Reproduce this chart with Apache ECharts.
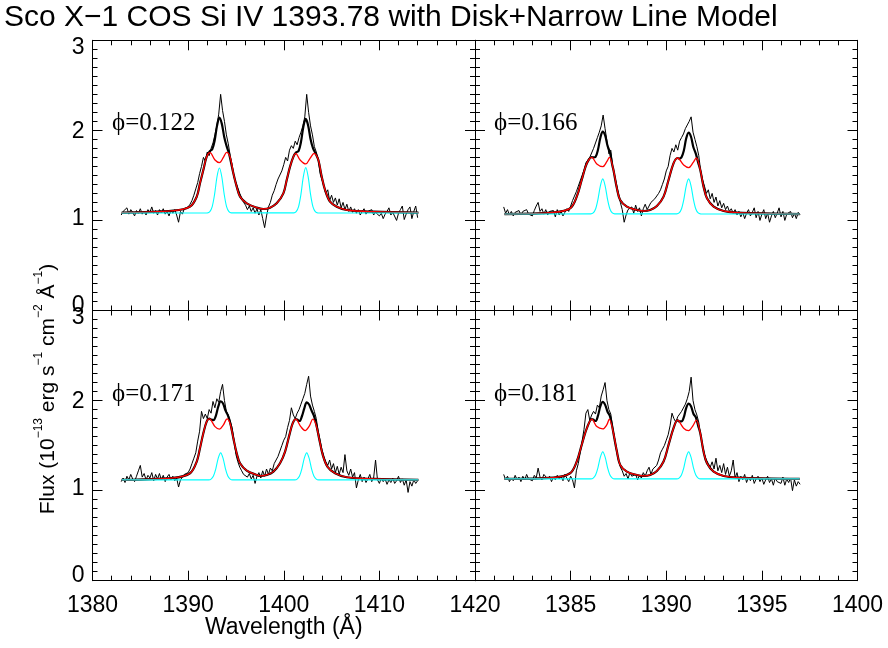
<!DOCTYPE html>
<html><head><meta charset="utf-8">
<script src="https://cdn.jsdelivr.net/npm/echarts@6/dist/echarts.min.js"></script>
<style>html,body{margin:0;padding:0;background:#fff}#c{width:888px;height:648px}</style>
</head><body><div id="c"></div>
<script>
// ---------- titles / labels ----------
const chartTitle = 'Sco X\u22121 COS Si IV 1393.78 with Disk+Narrow Line Model';
const phaseLabels = ['\u03d5=0.122', '\u03d5=0.166', '\u03d5=0.171', '\u03d5=0.181'];
const xTitle = 'Wavelength (\u00c5)';
const leftXTicks = [1380, 1390, 1400, 1410, 1420];
const rightXTicks = [1385, 1390, 1395, 1400];
const yTicks = [0, 1, 2, 3];

// ---------- observed spectra (wavelength grids) ----------
const leftDataWave = [1383.0,1383.2,1383.4,1383.6,1383.8,1384.0,1384.2,1384.4,1384.6,1384.8,1385.0,1385.2,1385.4,1385.6,1385.8,1386.0,1386.2,1386.4,1386.6,1386.8,1387.0,1387.2,1387.4,1387.6,1387.8,1388.0,1388.2,1388.4,1388.6,1388.8,1389.0,1389.2,1389.4,1389.6,1389.8,1390.0,1390.2,1390.4,1390.6,1390.8,1391.0,1391.2,1391.4,1391.6,1391.8,1392.0,1392.2,1392.4,1392.6,1392.8,1393.0,1393.2,1393.4,1393.6,1393.8,1394.0,1394.2,1394.4,1394.6,1394.8,1395.0,1395.2,1395.4,1395.6,1395.8,1396.0,1396.2,1396.4,1396.6,1396.8,1397.0,1397.2,1397.4,1397.6,1397.8,1398.0,1398.2,1398.4,1398.6,1398.8,1399.0,1399.2,1399.4,1399.6,1399.8,1400.0,1400.2,1400.4,1400.6,1400.8,1401.0,1401.2,1401.4,1401.6,1401.8,1402.0,1402.2,1402.4,1402.6,1402.8,1403.0,1403.2,1403.4,1403.6,1403.8,1404.0,1404.2,1404.4,1404.6,1404.8,1405.0,1405.2,1405.4,1405.6,1405.8,1406.0,1406.2,1406.4,1406.6,1406.8,1407.0,1407.2,1407.4,1407.6,1407.8,1408.0,1408.2,1408.4,1408.6,1408.8,1409.0,1409.2,1409.4,1409.6,1409.8,1410.0,1410.2,1410.4,1410.6,1410.8,1411.0,1411.2,1411.4,1411.6,1411.8,1412.0,1412.2,1412.4,1412.6,1412.8,1413.0,1413.2,1413.4,1413.6,1413.8,1414.0];
const rightDataWave = [1381.5,1381.6,1381.7,1381.8,1381.9,1382.0,1382.1,1382.2,1382.3,1382.4,1382.5,1382.6,1382.7,1382.8,1382.9,1383.0,1383.1,1383.2,1383.3,1383.4,1383.5,1383.6,1383.7,1383.8,1383.9,1384.0,1384.1,1384.2,1384.3,1384.4,1384.5,1384.6,1384.7,1384.8,1384.9,1385.0,1385.1,1385.2,1385.3,1385.4,1385.5,1385.6,1385.7,1385.8,1385.9,1386.0,1386.1,1386.2,1386.3,1386.4,1386.5,1386.6,1386.7,1386.8,1386.9,1387.0,1387.1,1387.2,1387.3,1387.4,1387.5,1387.6,1387.7,1387.8,1387.9,1388.0,1388.1,1388.2,1388.3,1388.4,1388.5,1388.6,1388.7,1388.8,1388.9,1389.0,1389.1,1389.2,1389.3,1389.4,1389.5,1389.6,1389.7,1389.8,1389.9,1390.0,1390.1,1390.2,1390.3,1390.4,1390.5,1390.6,1390.7,1390.8,1390.9,1391.0,1391.1,1391.2,1391.3,1391.4,1391.5,1391.6,1391.7,1391.8,1391.9,1392.0,1392.1,1392.2,1392.3,1392.4,1392.5,1392.6,1392.7,1392.8,1392.9,1393.0,1393.1,1393.2,1393.3,1393.4,1393.5,1393.6,1393.7,1393.8,1393.9,1394.0,1394.1,1394.2,1394.3,1394.4,1394.5,1394.6,1394.7,1394.8,1394.9,1395.0,1395.1,1395.2,1395.3,1395.4,1395.5,1395.6,1395.7,1395.8,1395.9,1396.0,1396.1,1396.2,1396.3,1396.4,1396.5,1396.6,1396.7,1396.8,1396.9,1397.0];

// ---------- observed flux per panel ----------
const p1Flux = [1.06,1.10,1.08,1.14,1.07,1.12,1.09,1.05,1.11,1.08, 1.13,1.07,1.10,1.06,1.12,1.09,1.15,1.08,1.11,1.06, 1.12,1.09,1.13,1.07,1.10,1.05,1.11,1.08,1.12,1.06, 0.98,1.10,1.07,1.13,1.12,1.15,1.18,1.22,1.28,1.35, 1.42,1.52,1.60,1.70,1.66,1.76,1.72,1.80,1.86,1.95, 2.05,2.18,2.40,2.22,2.10,1.95,1.85,1.72,1.62,1.48, 1.42,1.36,1.30,1.25,1.20,1.17,1.12,1.16,1.10,1.14, 1.08,1.13,1.06,1.12,1.02,0.92,1.05,1.15,1.20,1.28, 1.33,1.40,1.46,1.44,1.55,1.62,1.70,1.66,1.78,1.83, 1.80,1.88,1.84,1.92,1.98,2.05,2.15,2.40,2.20,2.05, 1.95,1.82,1.76,1.68,1.52,1.45,1.38,1.30,1.34,1.22, 1.28,1.20,1.25,1.17,1.24,1.14,1.20,1.12,1.18,1.10, 1.15,1.09,1.13,1.08,1.12,1.06,1.10,1.13,1.07,1.10, 1.08,1.12,1.06,1.09,1.11,1.05,1.08,1.02,1.07,1.10, 1.14,1.06,1.09,1.11,1.00,1.08,1.12,1.16,1.01,1.07, 1.12,1.15,1.02,1.10,1.16,1.03];
const p2Flux = [1.15,1.08,1.12,1.06,1.10,1.05,1.09,1.07,1.11,1.06, 1.10,1.08,1.12,1.07,1.09,1.05,1.11,1.16,1.20,1.10, 1.13,1.07,1.12,1.06,1.10,1.08,1.11,1.04,1.12,1.06, 1.10,1.05,1.09,1.13,1.10,1.16,1.22,1.27,1.32,1.38, 1.44,1.50,1.56,1.64,1.62,1.70,1.72,1.80,1.86,1.92, 1.98,2.05,2.17,2.02,1.88,1.74,1.78,1.60,1.50,1.40, 1.30,1.20,1.12,0.98,1.06,1.12,1.10,1.15,1.08,1.17, 1.10,1.14,1.05,1.13,1.18,1.12,1.16,1.20,1.18,1.24, 1.22,1.30,1.34,1.40,1.46,1.55,1.60,1.72,1.80,1.76, 1.84,1.78,1.88,1.92,1.96,2.02,2.06,2.10,2.15,1.98, 1.90,1.82,1.72,1.55,1.45,1.38,1.30,1.34,1.24,1.30, 1.20,1.26,1.16,1.22,1.14,1.19,1.12,1.16,1.10,1.13, 1.08,1.12,1.06,1.10,1.04,1.09,1.02,1.08,1.12,1.05, 1.09,1.14,1.03,1.10,1.00,1.07,1.12,1.02,1.08,0.98, 1.05,1.10,1.03,1.08,1.14,1.04,1.10,1.00,1.07,1.05, 1.10,1.03,1.08,1.02,1.09,1.06];
const p3Flux = [1.10,1.14,1.09,1.16,1.12,1.18,1.13,1.10,1.16,1.22, 1.28,1.15,1.19,1.12,1.17,1.14,1.20,1.11,1.18,1.13, 1.19,1.12,1.17,1.10,1.15,1.18,1.12,1.16,1.11,1.14, 1.04,1.12,1.15,1.18,1.16,1.20,1.24,1.30,1.36,1.42, 1.55,1.66,1.88,1.80,1.85,1.80,1.90,1.86,1.99,1.92, 2.02,1.98,2.10,2.18,2.00,1.88,1.84,1.82,1.70,1.56, 1.40,1.32,1.26,1.22,1.18,1.20,1.15,1.19,1.13,1.17, 1.08,1.16,1.20,1.14,1.22,1.16,1.24,1.18,1.25,1.22, 1.30,1.34,1.38,1.44,1.50,1.56,1.60,1.70,1.78,1.92, 1.84,1.80,1.86,1.90,1.96,2.02,2.08,2.18,2.27,2.05, 1.95,1.88,1.80,1.66,1.56,1.45,1.38,1.32,1.28,1.34, 1.24,1.30,1.20,1.27,1.18,1.26,1.20,1.40,1.22,1.17, 1.24,1.15,1.20,1.03,1.12,1.18,1.10,1.15,1.09,1.13, 1.18,1.10,1.14,1.34,1.12,1.08,1.14,1.10,1.13,1.07, 1.12,1.09,1.14,1.08,1.11,1.16,1.09,1.13,1.06,1.12, 0.98,1.10,1.05,1.12,1.08,1.11];
const p4Flux = [1.18,1.12,1.16,1.10,1.14,1.11,1.17,1.12,1.15,1.10, 1.16,1.12,1.18,1.13,1.15,1.11,1.17,1.14,1.25,1.15, 1.12,1.18,1.20,1.13,1.16,1.10,1.15,1.12,1.17,1.13, 1.16,1.11,1.18,1.14,1.10,1.16,1.12,1.03,1.22,1.30, 1.42,1.55,1.68,1.86,1.90,1.78,1.84,1.88,1.85,1.95, 1.92,2.05,2.12,2.20,2.00,1.90,1.85,1.70,1.58,1.45, 1.34,1.26,1.22,1.16,1.19,1.13,1.20,1.16,1.14,1.18, 1.12,1.17,1.14,1.20,1.16,1.22,1.26,1.18,1.24,1.22, 1.28,1.34,1.42,1.46,1.50,1.56,1.62,1.72,1.86,1.80, 1.76,1.82,1.80,1.88,1.90,1.96,2.02,2.10,2.26,2.00, 1.90,1.84,1.76,1.62,1.50,1.40,1.34,1.30,1.26,1.32, 1.24,1.36,1.22,1.28,1.20,1.30,1.18,1.26,1.16,1.22, 1.34,1.14,1.20,1.10,1.16,1.12,1.18,1.09,1.15,1.11, 1.17,1.08,1.13,1.16,1.10,1.14,1.07,1.12,1.16,1.09, 1.13,1.06,1.14,1.10,1.12,1.08,1.15,1.06,1.13,1.09, 1.14,1.00,1.12,1.05,1.10,1.07];

// ---------- disk model (red) ----------
const p1DiskWave = [1383.05,1388.46,1390.2,1390.9,1391.24,1391.59,1391.94,1392.29,1392.81,1393.27,1393.69,1394.03,1394.38,1394.73,1395.08,1395.43,1396.13,1397.17,1397.87,1398.57,1399.26,1399.96,1400.31,1400.66,1401.01,1401.25,1401.71,1402.3,1402.75,1403.17,1403.62,1403.97,1404.32,1404.84,1405.54,1406.59,1409.38,1414.08];
const p1Disk = [1.086,1.108,1.153,1.264,1.412,1.56,1.708,1.752,1.671,1.641,1.70,1.756,1.708,1.523,1.375,1.264,1.19,1.142,1.127,1.142,1.19,1.301,1.449,1.597,1.708,1.745,1.671,1.627,1.69,1.745,1.671,1.486,1.338,1.208,1.153,1.116,1.097,1.086];
const p2DiskWave = [1381.54,1384.10,1384.97,1385.32,1385.58,1385.85,1386.11,1386.37,1386.68,1386.89,1387.03,1387.24,1387.42,1387.59,1387.94,1388.46,1388.81,1389.16,1389.51,1389.86,1390.12,1390.38,1390.59,1390.91,1391.17,1391.40,1391.57,1391.78,1391.95,1392.13,1392.48,1393.00,1393.70,1396.98];
const p2Disk = [1.071,1.090,1.134,1.264,1.449,1.634,1.70,1.627,1.597,1.652,1.70,1.56,1.356,1.227,1.153,1.116,1.105,1.116,1.16,1.264,1.449,1.634,1.693,1.615,1.586,1.641,1.693,1.56,1.375,1.245,1.153,1.105,1.086,1.071];
const p3DiskWave = [1383.05,1388.46,1390.20,1390.90,1391.24,1391.59,1391.94,1392.22,1392.81,1393.27,1393.69,1394.07,1394.38,1394.73,1395.08,1395.43,1396.13,1397.17,1397.52,1398.22,1398.92,1399.61,1400.14,1400.59,1400.94,1401.25,1401.78,1402.23,1402.68,1403.03,1403.38,1403.73,1404.08,1404.56,1405.37,1406.59,1409.38,1414.08];
const p3Disk = [1.119,1.141,1.193,1.323,1.471,1.637,1.767,1.797,1.711,1.682,1.73,1.797,1.749,1.582,1.415,1.304,1.223,1.174,1.163,1.174,1.211,1.304,1.434,1.619,1.749,1.793,1.711,1.667,1.719,1.793,1.73,1.563,1.397,1.267,1.193,1.149,1.13,1.119];
const p4DiskWave = [1381.54,1384.10,1384.97,1385.32,1385.58,1385.85,1386.11,1386.37,1386.68,1386.89,1387.02,1387.24,1387.42,1387.59,1387.94,1388.46,1388.81,1389.16,1389.51,1389.86,1390.12,1390.38,1390.59,1390.91,1391.17,1391.40,1391.57,1391.78,1391.95,1392.13,1392.48,1393.00,1393.70,1396.98];
const p4Disk = [1.13,1.145,1.193,1.323,1.508,1.693,1.793,1.711,1.686,1.73,1.793,1.637,1.434,1.286,1.211,1.174,1.163,1.174,1.219,1.323,1.508,1.693,1.782,1.693,1.667,1.723,1.782,1.637,1.434,1.304,1.211,1.163,1.145,1.13];

// ---------- narrow line model (cyan) ----------
const p1NarrowWave = [1383.05,1392.02,1392.27,1392.52,1392.77,1393.02,1393.27,1393.52,1393.77,1394.02,1394.27,1394.52,1401.05,1401.3,1401.55,1401.8,1402.05,1402.3,1402.55,1402.8,1403.05,1403.3,1403.55,1414.08];
const p1Narrow = [1.082,1.084,1.098,1.154,1.292,1.485,1.582,1.485,1.292,1.154,1.098,1.084,1.084,1.098,1.154,1.292,1.487,1.586,1.487,1.292,1.154,1.098,1.084,1.082];
const p2NarrowWave = [1381.54,1386.055,1386.18,1386.305,1386.43,1386.555,1386.68,1386.805,1386.93,1387.055,1387.18,1387.305,1390.545,1390.67,1390.795,1390.92,1391.045,1391.17,1391.295,1391.42,1391.545,1391.67,1391.795,1396.98];
const p2Narrow = [1.071,1.073,1.083,1.127,1.235,1.385,1.461,1.385,1.235,1.127,1.083,1.073,1.073,1.083,1.127,1.235,1.385,1.461,1.385,1.235,1.127,1.083,1.073,1.071];
const p3NarrowWave = [1383.05,1392.15,1392.4,1392.65,1392.9,1393.15,1393.4,1393.65,1393.9,1394.15,1394.4,1394.65,1401.15,1401.4,1401.65,1401.9,1402.15,1402.4,1402.65,1402.9,1403.15,1403.4,1403.65,1414.08];
const p3Narrow = [1.119,1.120,1.128,1.162,1.245,1.361,1.419,1.361,1.245,1.162,1.128,1.120,1.120,1.128,1.162,1.245,1.361,1.419,1.361,1.245,1.162,1.128,1.120,1.119];
const p4NarrowWave = [1381.54,1386.055,1386.18,1386.305,1386.43,1386.555,1386.68,1386.805,1386.93,1387.055,1387.18,1387.305,1390.545,1390.67,1390.795,1390.92,1391.045,1391.17,1391.295,1391.42,1391.545,1391.67,1391.795,1396.98];
const p4Narrow = [1.13,1.131,1.139,1.173,1.256,1.372,1.43,1.372,1.256,1.173,1.139,1.131,1.131,1.139,1.173,1.256,1.372,1.43,1.372,1.256,1.173,1.139,1.131,1.13];

// ---------- total model (thick black) ----------
const p1TotalWave = [1383.05,1388.46,1390.2,1390.9,1391.24,1391.59,1391.94,1392.27,1392.52,1392.77,1393.02,1393.27,1393.52,1393.77,1394.02,1394.27,1394.73,1395.08,1395.43,1396.13,1397.17,1397.87,1398.57,1399.26,1399.96,1400.31,1400.66,1401.01,1401.3,1401.55,1401.8,1402.05,1402.3,1402.55,1402.8,1403.05,1403.3,1403.62,1403.97,1404.32,1404.84,1405.54,1406.59,1409.38,1414.08];
const p1Total = [1.086,1.108,1.153,1.264,1.412,1.56,1.708,1.768,1.79,1.885,2.05,2.141,2.075,1.93,1.826,1.746,1.523,1.375,1.264,1.19,1.142,1.127,1.142,1.19,1.301,1.449,1.597,1.708,1.756,1.77,1.87,2.04,2.127,2.055,1.905,1.805,1.75,1.671,1.486,1.338,1.208,1.153,1.116,1.097,1.086];
const p2TotalWave = [1381.54,1384.10,1384.97,1385.32,1385.58,1385.85,1386.11,1386.18,1386.305,1386.43,1386.555,1386.68,1386.805,1386.93,1387.055,1387.18,1387.24,1387.42,1387.59,1387.94,1388.46,1388.81,1389.16,1389.51,1389.86,1390.12,1390.38,1390.59,1390.67,1390.795,1390.92,1391.045,1391.17,1391.295,1391.42,1391.545,1391.67,1391.78,1391.95,1392.13,1392.48,1393.00,1393.70,1396.98];
const p2Total = [1.071,1.090,1.134,1.264,1.449,1.634,1.703,1.70,1.706,1.784,1.919,1.987,1.944,1.829,1.756,1.612,1.56,1.356,1.227,1.153,1.116,1.105,1.116,1.16,1.264,1.449,1.634,1.693,1.687,1.70,1.777,1.912,1.976,1.929,1.812,1.741,1.642,1.56,1.375,1.245,1.153,1.105,1.086,1.071];
const p3TotalWave = [1383.05,1388.46,1390.20,1390.90,1391.24,1391.59,1391.94,1392.22,1392.4,1392.65,1392.9,1393.15,1393.4,1393.65,1393.9,1394.15,1394.4,1394.73,1395.08,1395.43,1396.13,1397.17,1397.52,1398.22,1398.92,1399.61,1400.14,1400.59,1400.94,1401.25,1401.4,1401.65,1401.9,1402.15,1402.4,1402.65,1402.9,1403.15,1403.4,1403.73,1404.08,1404.56,1405.37,1406.59,1409.38,1414.08];
const p3Total = [1.119,1.141,1.193,1.323,1.471,1.637,1.767,1.80,1.789,1.783,1.831,1.932,1.99,1.967,1.891,1.838,1.754,1.582,1.415,1.304,1.223,1.174,1.163,1.174,1.211,1.304,1.434,1.619,1.749,1.795,1.789,1.773,1.826,1.914,1.98,1.956,1.891,1.833,1.734,1.563,1.397,1.267,1.193,1.149,1.13,1.119];
const p4TotalWave = [1381.54,1384.10,1384.97,1385.32,1385.58,1385.85,1386.11,1386.18,1386.305,1386.43,1386.555,1386.68,1386.805,1386.93,1387.055,1387.18,1387.24,1387.42,1387.59,1387.94,1388.46,1388.81,1389.16,1389.51,1389.86,1390.12,1390.38,1390.59,1390.67,1390.795,1390.92,1391.045,1391.17,1391.295,1391.42,1391.545,1391.67,1391.78,1391.95,1392.13,1392.48,1393.00,1393.70,1396.98];
const p4Total = [1.13,1.145,1.193,1.323,1.508,1.693,1.795,1.789,1.773,1.832,1.937,1.986,1.952,1.876,1.828,1.709,1.637,1.434,1.286,1.211,1.174,1.163,1.174,1.219,1.323,1.508,1.693,1.782,1.769,1.768,1.816,1.92,1.967,1.937,1.854,1.815,1.719,1.637,1.434,1.304,1.211,1.163,1.145,1.13];

// ---------- build ----------
function pairs(w, v) { const n = Math.min(w.length, v.length); const o = []; for (let i = 0; i < n; i++) o.push([w[i], v[i]]); return o; }
const panels = [
  { dw: leftDataWave, df: p1Flux, tw: p1TotalWave, tv: p1Total, rw: p1DiskWave, rv: p1Disk, cw: p1NarrowWave, cv: p1Narrow },
  { dw: rightDataWave, df: p2Flux, tw: p2TotalWave, tv: p2Total, rw: p2DiskWave, rv: p2Disk, cw: p2NarrowWave, cv: p2Narrow },
  { dw: leftDataWave, df: p3Flux, tw: p3TotalWave, tv: p3Total, rw: p3DiskWave, rv: p3Disk, cw: p3NarrowWave, cv: p3Narrow },
  { dw: rightDataWave, df: p4Flux, tw: p4TotalWave, tv: p4Total, rw: p4DiskWave, rv: p4Disk, cw: p4NarrowWave, cv: p4Narrow }
];
const SANS = 'Liberation Sans, Arial, Helvetica, sans-serif';
const SERIF = 'Liberation Serif, DejaVu Serif, Times New Roman, serif';
const GX = [92.5, 475, 92.5, 475], GY = [40.3, 40.3, 310.5, 310.5];
const GW = 382.5, GH = 270.2;
const grids = [], xAxes = [], yAxes = [], series = [];
const blk = { color: '#000', width: 1 };
for (let g = 0; g < 4; g++) {
  const isLeft = g % 2 === 0, isBottom = g >= 2;
  grids.push({ left: GX[g], top: GY[g], width: GW, height: GH, containLabel: false });
  const xmin = leftXTicks[0];
  const xmax = isLeft ? leftXTicks[leftXTicks.length - 1] : rightXTicks[rightXTicks.length - 1];
  const xint = isLeft ? leftXTicks[1] - leftXTicks[0] : rightXTicks[1] - rightXTicks[0];
  const xbase = {
    gridIndex: g, type: 'value', min: xmin, max: xmax, interval: xint,
    axisLine: { show: true, onZero: false, lineStyle: blk },
    axisTick: { show: true, inside: true, length: 10, lineStyle: blk },
    minorTick: { show: true, splitNumber: 5, length: 5, lineStyle: blk },
    splitLine: { show: false }, minorSplitLine: { show: false }
  };
  xAxes.push(Object.assign({}, xbase, {
    position: 'bottom',
    axisLabel: {
      show: isBottom, color: '#000', fontSize: 23, fontFamily: SANS, margin: 13,
      showMinLabel: true, showMaxLabel: true,
      formatter: v => (isLeft ? leftXTicks : rightXTicks).indexOf(v) >= 0 ? String(v) : ''
    }
  }));
  xAxes.push(Object.assign({}, xbase, { position: 'top', axisLabel: { show: false } }));
  const ybase = {
    gridIndex: g, type: 'value', min: yTicks[0], max: yTicks[yTicks.length - 1], interval: 1,
    axisLine: { show: true, onZero: false, lineStyle: blk },
    axisTick: { show: true, inside: true, length: 10, lineStyle: blk },
    minorTick: { show: true, splitNumber: 10, length: 5, lineStyle: blk },
    splitLine: { show: false }, minorSplitLine: { show: false }
  };
  yAxes.push(Object.assign({}, ybase, {
    position: 'left',
    axisLabel: {
      show: isLeft, color: '#000', fontSize: 23, fontFamily: SANS, margin: 8,
      showMinLabel: true, showMaxLabel: true,
      formatter: v => '{s' + v + '|' + v + '}',
      rich: {
        s0: { fontSize: 23, fontFamily: SANS, padding: [0, 0, 10, 0] },
        s1: { fontSize: 23, fontFamily: SANS, padding: [0, 0, 4, 0] },
        s2: { fontSize: 23, fontFamily: SANS, padding: [2, 0, 0, 0] },
        s3: { fontSize: 23, fontFamily: SANS, padding: [14, 0, 0, 0] }
      }
    }
  }));
  yAxes.push(Object.assign({}, ybase, { position: 'right', axisLabel: { show: false } }));
  const p = panels[g];
  const common = { type: 'line', xAxisIndex: 2 * g, yAxisIndex: 2 * g, showSymbol: false, symbol: 'none', animation: false, silent: true, clip: true };
  series.push(Object.assign({}, common, { data: pairs(p.dw, p.df), lineStyle: { color: '#000', width: 1 } }));
  series.push(Object.assign({}, common, { data: pairs(p.tw, p.tv), smooth: 0.35, lineStyle: { color: '#000', width: 2.2 } }));
  series.push(Object.assign({}, common, { data: pairs(p.rw, p.rv), smooth: 0.35, lineStyle: { color: '#ff0000', width: 1.3 } }));
  series.push(Object.assign({}, common, { data: pairs(p.cw, p.cv), smooth: 0.3, lineStyle: { color: '#00ffff', width: 1.1 } }));
}
const phasePos = [[112, 123], [494, 123], [112, 394], [494, 394]];
const graphic = [
  { type: 'text', x: 4, y: 18, style: { text: chartTitle, fontSize: 30, fontFamily: SANS, fill: '#000', align: 'left', verticalAlign: 'middle' } },
  { type: 'text', x: 283.75, y: 628, style: { text: xTitle, fontSize: 23, fontFamily: SANS, fill: '#000', align: 'center', verticalAlign: 'middle' } },
  { type: 'text', x: 46, y: 389, rotation: Math.PI / 2,
    style: {
      text: '{n|Flux (10}{s|\u221213}{n| erg s}{s|\u22121}{n| cm}{s|\u22122}{n| \u00c5}{s|\u22121}{n|)}',
      align: 'center', verticalAlign: 'middle', fill: '#000',
      rich: {
        n: { fontSize: 21, fontFamily: SANS, fill: '#000', lineHeight: 26, verticalAlign: 'bottom' },
        s: { fontSize: 12, fontFamily: SANS, fill: '#000', lineHeight: 26, verticalAlign: 'top' }
      }
    } }
];
phaseLabels.forEach((t, i) => graphic.push({ type: 'text', x: phasePos[i][0], y: phasePos[i][1],
  style: { text: t, fontSize: 25, fontFamily: SERIF, fill: '#000', align: 'left', verticalAlign: 'middle' } }));

const chart = echarts.init(document.getElementById('c'), null, { renderer: 'canvas' });
chart.setOption({ animation: false, backgroundColor: '#fff', grid: grids, xAxis: xAxes, yAxis: yAxes, series: series, graphic: graphic });
</script></body></html>
